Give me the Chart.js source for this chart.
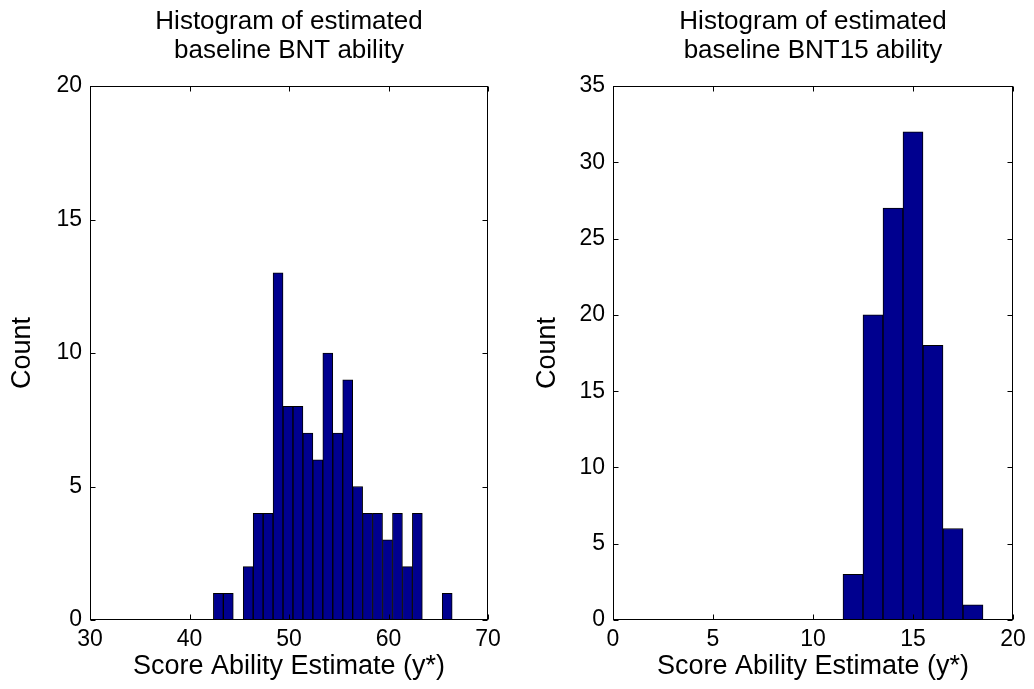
<!DOCTYPE html>
<html>
<head>
<meta charset="utf-8">
<script src="https://cdn.jsdelivr.net/npm/chart.js@4/dist/chart.umd.min.js"></script>
<style>
  html, body { margin: 0; padding: 0; background: #fff; }
  #wrap { position: relative; width: 1034px; height: 689px; overflow: hidden; }
  canvas { position: absolute; top: 0; }
  #c1 { left: 0; }
  #c2 { left: 517px; }
</style>
</head>
<body>
<div id="wrap">
  <canvas id="c1" width="517" height="689"></canvas>
  <canvas id="c2" width="517" height="689"></canvas>
</div>
<script>
// ---- data ----
const bntBinCenters = [42.9, 43.9, 44.9, 45.9, 46.9, 47.9, 48.9, 49.9, 50.9, 51.9, 52.9, 53.9,
                       54.9, 55.9, 56.9, 57.9, 58.9, 59.9, 60.9, 61.9, 62.9, 63.9, 64.9, 65.9];
const bntCounts     = [1, 1, 0, 2, 4, 4, 13, 8, 8, 7, 6, 10, 7, 9, 5, 4, 4, 3, 4, 2, 4, 0, 0, 1];

const bnt15BinCenters = [12, 13, 14, 15, 16, 17, 18];
const bnt15Counts     = [3, 20, 27, 32, 18, 6, 1];

const leftXTicks  = [30, 40, 50, 60, 70];
const leftYTicks  = [0, 5, 10, 15, 20];
const rightXTicks = [0, 5, 10, 15, 20];
const rightYTicks = [0, 5, 10, 15, 20, 25, 30, 35];

const leftTitle  = ['Histogram of estimated', 'baseline BNT ability'];
const rightTitle = ['Histogram of estimated', 'baseline BNT15 ability'];
const xLabel = 'Score Ability Estimate (y*)';
const yLabel = 'Count';

// ---- chart setup ----
Chart.defaults.font.family = '"Liberation Sans", Arial, Helvetica, sans-serif';
Chart.defaults.color = '#000';

const boxPlugin = {
  id: 'matlabBox',
  afterDatasetsDraw(chart) {
    const { ctx, chartArea: a, scales: { x, y } } = chart;
    const L = Math.round(a.left) + 0.5, R = Math.round(a.right) - 0.5;
    const T = Math.round(a.top) + 0.5, B = Math.round(a.bottom) - 0.5;
    const len = 5;
    ctx.save();
    ctx.strokeStyle = '#000';
    ctx.lineWidth = 1;
    ctx.strokeRect(L, T, R - L, B - T);
    ctx.beginPath();
    x.ticks.forEach(t => {
      const px = Math.round(x.getPixelForValue(t.value)) + 0.5;
      ctx.moveTo(px, B); ctx.lineTo(px, B - len);
      ctx.moveTo(px, T); ctx.lineTo(px, T + len);
    });
    y.ticks.forEach(t => {
      const py = Math.round(y.getPixelForValue(t.value)) + 0.5;
      ctx.moveTo(L, py); ctx.lineTo(L + len, py);
      ctx.moveTo(R, py); ctx.lineTo(R - len, py);
    });
    ctx.stroke();
    ctx.restore();
  }
};

function makeHist(canvasId, centers, counts, xTicks, yTicks, title, cfg) {
  const pts = [];
  centers.forEach((c, i) => { if (counts[i] > 0) pts.push({ x: c, y: counts[i] }); });
  return new Chart(document.getElementById(canvasId), {
    type: 'bar',
    data: {
      datasets: [{
        data: pts,
        backgroundColor: '#00008F',
        borderColor: '#000000',
        borderWidth: 1,
        borderSkipped: false,
        barPercentage: 1,
        categoryPercentage: 1,
        grouped: false
      }]
    },
    options: {
      responsive: false,
      animation: false,
      devicePixelRatio: 1,
      layout: { padding: { left: 0, right: cfg.padRight, top: 0, bottom: 0 } },
      plugins: {
        legend: { display: false },
        tooltip: { enabled: false },
        title: {
          display: true,
          text: title,
          fullSize: false,
          color: '#000',
          font: { size: 26, weight: 'normal', lineHeight: 1.12 },
          padding: { top: 7.4, bottom: 20.4 }
        }
      },
      scales: {
        x: {
          type: 'linear',
          min: xTicks[0],
          max: xTicks[xTicks.length - 1],
          offset: false,
          grid: { display: false, drawTicks: false },
          border: { display: false },
          afterBuildTicks: s => { s.ticks = xTicks.map(v => ({ value: v })); },
          afterFit: s => { s.height = 69; },
          ticks: { font: { size: 23 }, padding: 6, maxRotation: 0, autoSkip: false },
          title: {
            display: true, text: xLabel,
            font: { size: 27 }, padding: { top: 0, bottom: 5.8 }
          }
        },
        y: {
          type: 'linear',
          min: yTicks[0],
          max: yTicks[yTicks.length - 1],
          grid: { display: false, drawTicks: false },
          border: { display: false },
          afterBuildTicks: s => { s.ticks = yTicks.map(v => ({ value: v })); },
          afterFit: s => { s.width = cfg.yWidth; },
          ticks: { font: { size: 23 }, padding: 8, autoSkip: false },
          title: {
            display: true, text: yLabel,
            font: { size: 27 }, padding: { top: cfg.yTitlePad, bottom: 0 }
          }
        }
      }
    },
    plugins: [boxPlugin]
  });
}

makeHist('c1', bntBinCenters, bntCounts, leftXTicks, leftYTicks, leftTitle,
         { padRight: 29, yWidth: 90, yTitlePad: 6.5 });
makeHist('c2', bnt15BinCenters, bnt15Counts, rightXTicks, rightYTicks, rightTitle,
         { padRight: 21, yWidth: 96, yTitlePad: 14.5 });
</script>
</body>
</html>
